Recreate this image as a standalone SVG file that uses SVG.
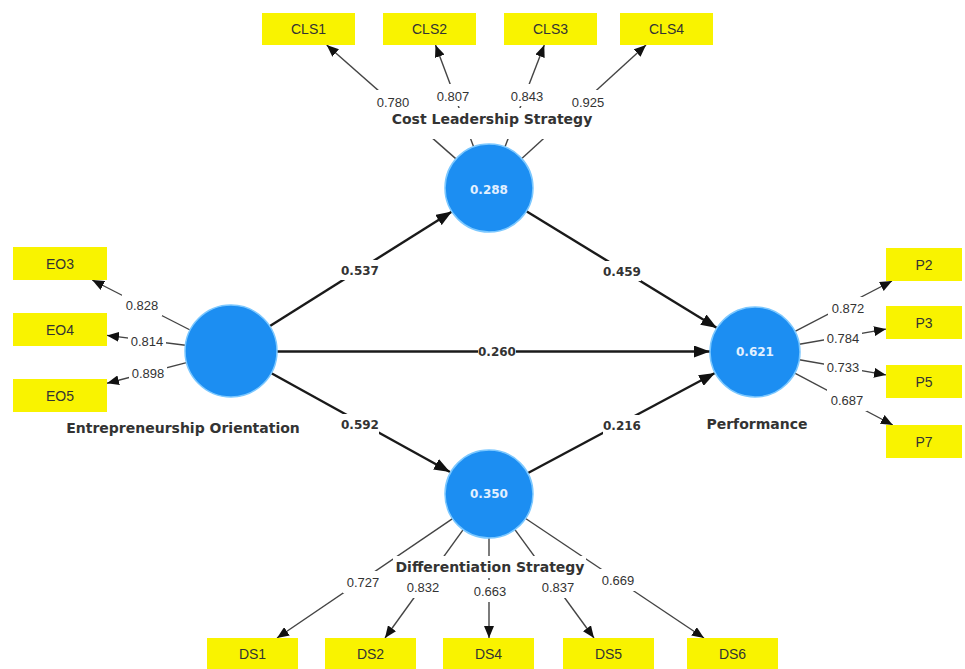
<svg xmlns="http://www.w3.org/2000/svg" width="965" height="669" viewBox="0 0 965 669">
<defs>
<style>
.ld{stroke:#444;stroke-width:1.4;fill:none;marker-end:url(#a1)}
.st{stroke:#1a1a1a;stroke-width:2.4;fill:none;marker-end:url(#a2)}
.bg{fill:#fff}
.box{fill:#f9f300}
.lv{fill:#1c8ef2;stroke:#7cc8ff;stroke-width:1.5}
.ind{font-family:"Liberation Sans",Arial,sans-serif;font-size:14px;fill:#333;text-anchor:middle}
.ldt{font-family:"Liberation Sans",Arial,sans-serif;font-size:13px;fill:#333;text-anchor:middle}
.pth{font-family:"DejaVu Sans",sans-serif;font-weight:bold;font-size:12px;fill:#333;text-anchor:middle}
.cn{font-family:"DejaVu Sans",sans-serif;font-weight:bold;font-size:14px;fill:#333;text-anchor:middle}
.val{font-family:"DejaVu Sans",sans-serif;font-weight:bold;font-size:12px;fill:#e2f0ff;text-anchor:middle}
</style>
<marker id="a1" markerUnits="userSpaceOnUse" markerWidth="12" markerHeight="10" viewBox="0 0 12 10" refX="12" refY="5" orient="auto"><path d="M0,0L12,5L0,10z" fill="#111"/></marker>
<marker id="a2" markerUnits="userSpaceOnUse" markerWidth="16" markerHeight="12" viewBox="0 0 16 12" refX="16" refY="6" orient="auto"><path d="M0,0L16,6L0,12z" fill="#111"/></marker>
</defs>
<rect width="965" height="669" fill="#fff"/>

<g id="connectors">
<line class="st" x1="270" y1="326" x2="452" y2="211.5"/>
<line class="st" x1="277" y1="351.5" x2="710" y2="351.5"/>
<line class="st" x1="271" y1="373" x2="450" y2="472"/>
<line class="st" x1="526" y1="211" x2="717" y2="328"/>
<line class="st" x1="528" y1="473" x2="715" y2="373"/>

<line class="ld" x1="456" y1="158.9" x2="326.7" y2="45"/>
<line class="ld" x1="473.6" y1="146.8" x2="435.5" y2="45"/>
<line class="ld" x1="504.9" y1="147" x2="544.3" y2="45"/>
<line class="ld" x1="521.8" y1="158.6" x2="646" y2="45"/>

<line class="ld" x1="190.1" y1="330" x2="92.2" y2="280"/>
<line class="ld" x1="185.4" y1="345.3" x2="107" y2="335.4"/>
<line class="ld" x1="186.5" y1="362.6" x2="107" y2="383.3"/>

<line class="ld" x1="795" y1="331.3" x2="892" y2="281"/>
<line class="ld" x1="799.3" y1="344.3" x2="886" y2="329.1"/>
<line class="ld" x1="799.3" y1="359.7" x2="886" y2="374.9"/>
<line class="ld" x1="794.8" y1="373.1" x2="892.8" y2="425"/>

<line class="ld" x1="452.6" y1="518.7" x2="277" y2="638"/>
<line class="ld" x1="463.2" y1="529.7" x2="385" y2="638"/>
<line class="ld" x1="489" y1="538" x2="489" y2="638"/>
<line class="ld" x1="514.9" y1="529.6" x2="594" y2="638"/>
<line class="ld" x1="525.6" y1="518.5" x2="704" y2="638"/>

<g id="path-labels">
<rect class="bg" x="341" y="260" width="38" height="20"/><text class="pth" x="360" y="274.5">0.537</text>
<rect class="bg" x="603" y="261" width="38" height="20"/><text class="pth" x="622" y="275.5">0.459</text>
<rect class="bg" x="478" y="343" width="38" height="18"/><text class="pth" x="497" y="356">0.260</text>
<rect class="bg" x="341" y="414" width="38" height="20"/><text class="pth" x="360" y="428.5">0.592</text>
<rect class="bg" x="603" y="415" width="38" height="20"/><text class="pth" x="622" y="429.5">0.216</text>
</g>

<g id="loading-labels">
<rect class="bg" x="373" y="90" width="40" height="22"/><text class="ldt" x="393" y="106.5">0.780</text>
<rect class="bg" x="433" y="84" width="40" height="22"/><text class="ldt" x="453" y="100.5">0.807</text>
<rect class="bg" x="507" y="84" width="40" height="22"/><text class="ldt" x="527" y="100.5">0.843</text>
<rect class="bg" x="568" y="90" width="40" height="22"/><text class="ldt" x="588" y="106.5">0.925</text>

<rect class="bg" x="122" y="294" width="40" height="22"/><text class="ldt" x="142" y="309.5">0.828</text>
<rect class="bg" x="128" y="332" width="38" height="18"/><text class="ldt" x="147" y="345.5">0.814</text>
<rect class="bg" x="129" y="363" width="38" height="20"/><text class="ldt" x="148" y="377.5">0.898</text>

<rect class="bg" x="828" y="297" width="40" height="22"/><text class="ldt" x="848" y="312.5">0.872</text>
<rect class="bg" x="824" y="329" width="38" height="18"/><text class="ldt" x="843" y="342.5">0.784</text>
<rect class="bg" x="824" y="358" width="38" height="18"/><text class="ldt" x="843" y="371.5">0.733</text>
<rect class="bg" x="827" y="389" width="40" height="22"/><text class="ldt" x="847" y="404.5">0.687</text>

<rect class="bg" x="343" y="571" width="40" height="22"/><text class="ldt" x="363" y="586.5">0.727</text>
<rect class="bg" x="403" y="576" width="40" height="22"/><text class="ldt" x="423" y="591.5">0.832</text>
<rect class="bg" x="470" y="580" width="40" height="22"/><text class="ldt" x="490" y="595.5">0.663</text>
<rect class="bg" x="538" y="576" width="40" height="22"/><text class="ldt" x="558" y="591.5">0.837</text>
<rect class="bg" x="598" y="569" width="40" height="22"/><text class="ldt" x="618" y="584.5">0.669</text>
</g>
</g>

<g id="node-CLS">
<rect class="bg" x="386" y="108" width="212" height="31"/>
<text class="cn" x="492" y="124">Cost Leadership Strategy</text>
<circle class="lv" cx="489" cy="188" r="44"/>
<text class="val" x="489" y="194">0.288</text>
</g>
<g id="node-EO">
<circle class="lv" cx="231" cy="351" r="46"/>
<text class="cn" x="183" y="433">Entrepreneurship Orientation</text>
</g>
<g id="node-P">
<circle class="lv" cx="755" cy="352" r="45"/>
<text class="val" x="755" y="356">0.621</text>
<text class="cn" x="757" y="429">Performance</text>
</g>
<g id="node-DS">
<circle class="lv" cx="489" cy="494" r="44"/>
<text class="val" x="489" y="498">0.350</text>
<rect class="bg" x="393" y="556" width="193" height="22"/>
<text class="cn" x="490" y="572">Differentiation Strategy</text>
</g>

<g id="node-CLS1"><rect class="box" x="262" y="13" width="93" height="32"/><text class="ind" x="308.5" y="34">CLS1</text></g>
<g id="node-CLS2"><rect class="box" x="383" y="13" width="93" height="32"/><text class="ind" x="429.5" y="34">CLS2</text></g>
<g id="node-CLS3"><rect class="box" x="504" y="13" width="93" height="32"/><text class="ind" x="550.5" y="34">CLS3</text></g>
<g id="node-CLS4"><rect class="box" x="620" y="13" width="93" height="32"/><text class="ind" x="666.5" y="34">CLS4</text></g>

<g id="node-EO3"><rect class="box" x="13" y="247" width="94" height="33"/><text class="ind" x="60" y="268.5">EO3</text></g>
<g id="node-EO4"><rect class="box" x="13" y="313" width="94" height="33"/><text class="ind" x="60" y="334.5">EO4</text></g>
<g id="node-EO5"><rect class="box" x="13" y="379" width="94" height="33"/><text class="ind" x="60" y="400.5">EO5</text></g>

<g id="node-P2"><rect class="box" x="886" y="248" width="76" height="33"/><text class="ind" x="924" y="269.5">P2</text></g>
<g id="node-P3"><rect class="box" x="886" y="306" width="76" height="33"/><text class="ind" x="924" y="327.5">P3</text></g>
<g id="node-P5"><rect class="box" x="886" y="365" width="76" height="33"/><text class="ind" x="924" y="386.5">P5</text></g>
<g id="node-P7"><rect class="box" x="886" y="425" width="76" height="33"/><text class="ind" x="924" y="446.5">P7</text></g>

<g id="node-DS1"><rect class="box" x="207" y="638" width="91" height="33"/><text class="ind" x="252.5" y="659">DS1</text></g>
<g id="node-DS2"><rect class="box" x="325" y="638" width="91" height="33"/><text class="ind" x="370.5" y="659">DS2</text></g>
<g id="node-DS4"><rect class="box" x="443" y="638" width="91" height="33"/><text class="ind" x="488.5" y="659">DS4</text></g>
<g id="node-DS5"><rect class="box" x="563" y="638" width="91" height="33"/><text class="ind" x="608.5" y="659">DS5</text></g>
<g id="node-DS6"><rect class="box" x="687" y="638" width="91" height="33"/><text class="ind" x="732.5" y="659">DS6</text></g>
</svg>
